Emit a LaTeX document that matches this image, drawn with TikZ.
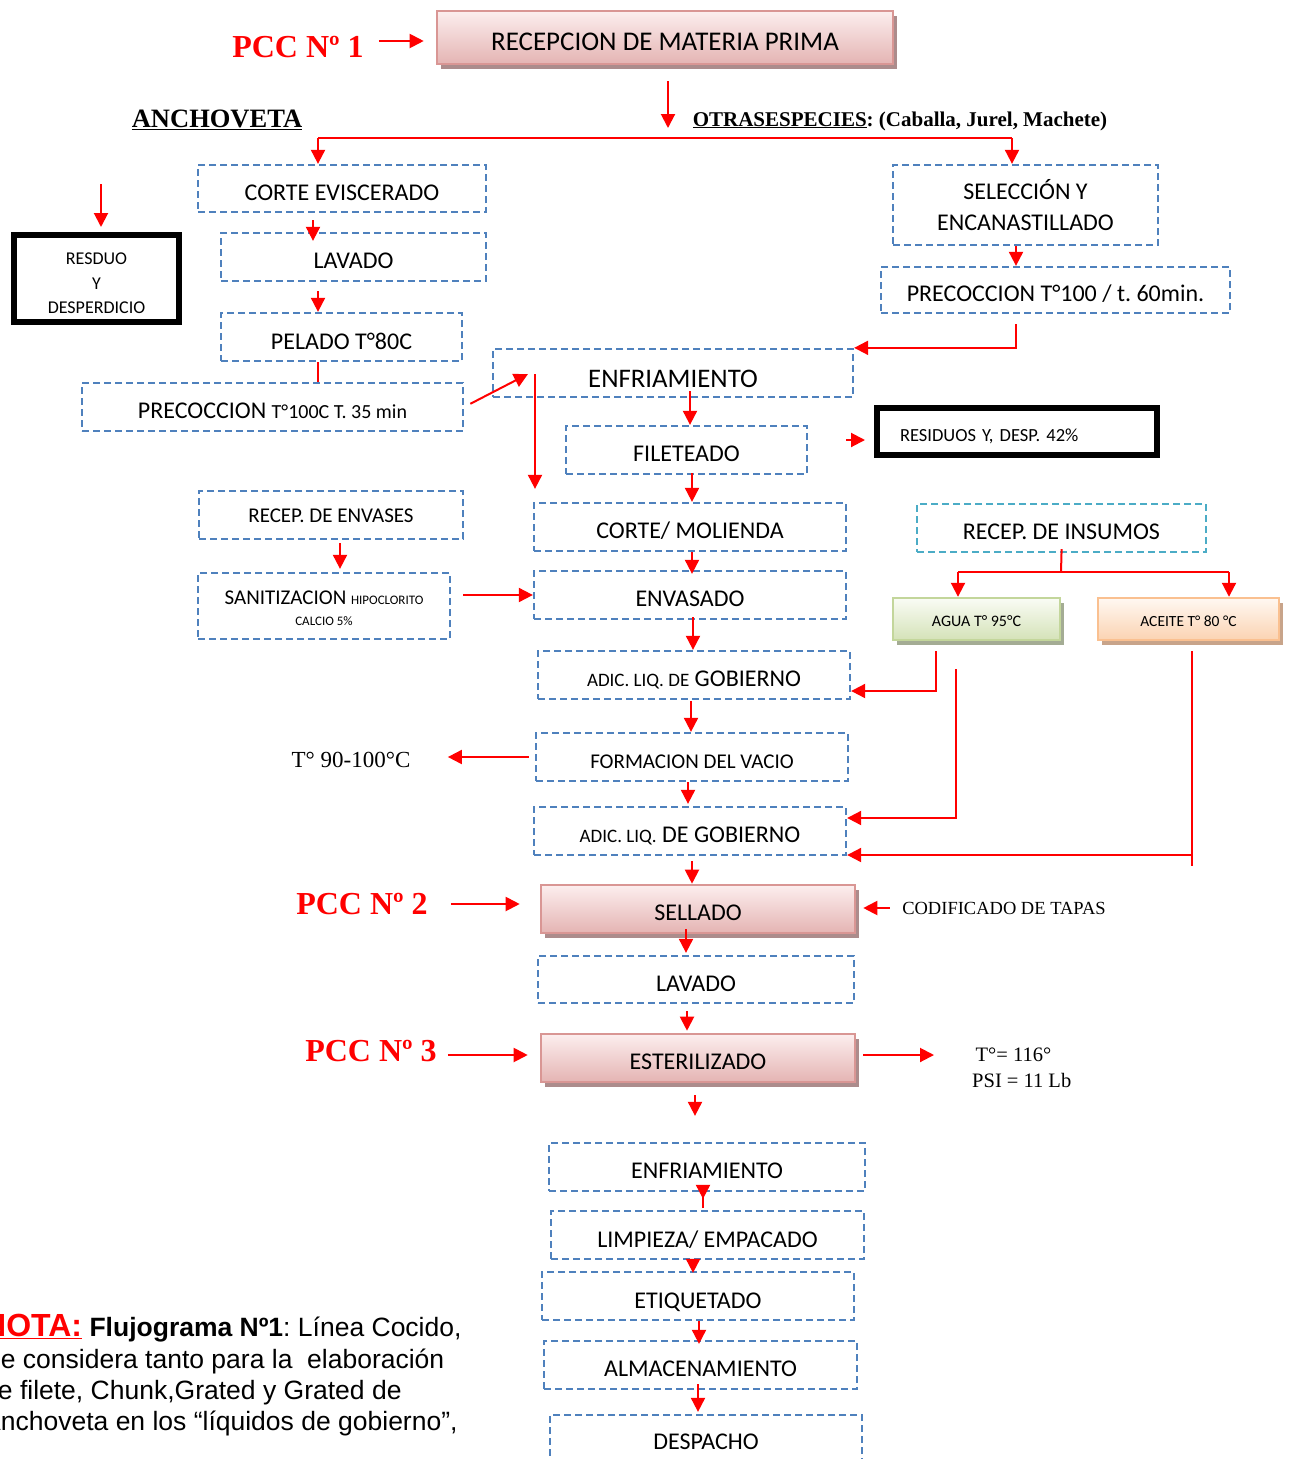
\documentclass[tikz,border=0pt]{standalone}
\usepackage{fontspec}
\setmainfont{Carlito}
\newfontfamily\serifrm{Liberation Serif}
\newfontfamily\sansar{Liberation Sans}
\usetikzlibrary{arrows.meta,shadows}
\newcommand\fsz[2]{\fontsize{#1}{#2}\selectfont}
\frenchspacing

\definecolor{stepblue}{HTML}{4F81BD}
\definecolor{inputteal}{HTML}{4BACC6}
\definecolor{pccedge}{HTML}{D99694}
\definecolor{pcctop}{HTML}{FCEEEE}
\definecolor{pccbottom}{HTML}{E4B4B3}
\definecolor{pccshadow}{HTML}{AC8C8C}
\definecolor{wateredge}{HTML}{C3D69B}
\definecolor{watertop}{HTML}{FAFCF5}
\definecolor{waterbottom}{HTML}{D4E2B8}
\definecolor{watershadow}{HTML}{A4AC94}
\definecolor{oiledge}{HTML}{FAC090}
\definecolor{oiltop}{HTML}{FFF8F2}
\definecolor{oilbottom}{HTML}{FBD3B2}
\definecolor{oilshadow}{HTML}{C8A48A}

\tikzset{
  stepframe/.style={draw=stepblue, line width=2.3pt, dash pattern=on 7pt off 4pt,
    inner sep=0pt, align=center, font=\fsz{24}{29}},
  stepbox/.style={stepframe, text height=23.5pt, text depth=0pt},
  inputbox/.style={stepbox, draw=inputteal},
  pccbox/.style={draw=pccedge, line width=2.6pt, top color=pcctop, bottom color=pccbottom,
    inner sep=0pt, align=center, font=\fsz{24}{29}, text height=23.5pt, text depth=0pt,
    drop shadow={shadow xshift=4pt, shadow yshift=-5pt, opacity=1, fill=pccshadow}},
  waterbox/.style={draw=wateredge, line width=2.4pt, top color=watertop, bottom color=waterbottom,
    inner sep=0pt, font=\fsz{16}{18}, text height=14.3pt, text depth=0pt,
    drop shadow={shadow xshift=4pt, shadow yshift=-5pt, opacity=1, fill=watershadow}},
  oilbox/.style={draw=oiledge, line width=2.4pt, top color=oiltop, bottom color=oilbottom,
    inner sep=0pt, font=\fsz{15.5}{18}, text height=14pt, text depth=0pt,
    drop shadow={shadow xshift=4pt, shadow yshift=-5pt, opacity=1, fill=oilshadow}},
  wastebox/.style={draw=black, line width=6pt, inner sep=0pt},
  flow/.style={draw=red, line width=2pt, -{Triangle[length=14pt,width=14pt]}},
  link/.style={draw=red, line width=2pt},
  pcclabel/.style={text=red, font=\serifrm\bfseries\fsz{32}{36}, inner sep=0pt},
  nota/.style={anchor=base west, inner sep=0pt, font=\sansar\fsz{26.5}{31}},
}

\begin{document}
\begin{tikzpicture}[x=1pt,y=-1pt]
\useasboundingbox (0,0) rectangle (1288,1459);
\clip (0,0) rectangle (1288,1459);
\fill[white] (0,0) rectangle (1288,1459);

% ---------- header ----------
\node[pccbox, minimum width=456, minimum height=53, font=\fsz{27}{30}, text height=25.4pt] (rmp) at (665,37.5) {RECEPCION DE MATERIA PRIMA};
\node[pcclabel] (pcc1) at (298,47) {PCC Nº 1};
\node[font=\serifrm\bfseries\fsz{26.5}{30}] (anch) at (217,120) {\underline{ANCHOVETA}};
\node[font=\serifrm\bfseries\fsz{21}{25}] (otras) at (900,121) {\underline{OTRASESPECIES}: (Caballa, Jurel, Machete)};

% ---------- anchoveta line ----------
\node[stepbox, minimum width=288, minimum height=47] (ce) at (342,188.5) {CORTE EVISCERADO};
\node[wastebox, minimum width=165, minimum height=87, align=center, font=\fsz{18}{24.5}, text height=70.6pt, text depth=0pt] (res) at (96.5,278.5) {RESDUO\\Y\\DESPERDICIO};
\node[stepbox, minimum width=265, minimum height=48] (lav1) at (353.5,257) {LAVADO};
\node[stepbox, minimum width=241, minimum height=48, text height=25.5pt] (pel) at (341.5,337) {PELADO T°80C};
\node[stepbox, minimum width=381, minimum height=48] (prec1) at (272.5,407) {PRECOCCION {\fsz{20}{24}T°100C T. 35 min}};

% ---------- other species ----------
\node[stepframe, minimum width=265, minimum height=80, font=\fsz{24}{31}] (sel) at (1025.5,205) {SELECCIÓN Y\\ENCANASTILLADO};
\node[stepbox, minimum width=349, minimum height=46] (prec2) at (1055.5,290) {PRECOCCION T°100 / t. 60min.};

% ---------- main column ----------
\node[stepbox, minimum width=360, minimum height=48, font=\fsz{26.8}{30}, text height=29.3pt] (enf1) at (673,373) {ENFRIAMIENTO};
\node[stepbox, minimum width=241, minimum height=48] (fil) at (686.5,450) {FILETEADO};
\node[wastebox, minimum width=280, minimum height=47, text width=234, align=left, font=\fsz{18.5}{22}, text height=19.9pt, text depth=0pt] (res42) at (1017,431.5) {RESIDUOS Y, DESP. 42\%};
\node[stepbox, minimum width=312, minimum height=48] (cm) at (690,527) {CORTE/ MOLIENDA};
\node[stepbox, minimum width=312, minimum height=48] (env) at (690,595) {ENVASADO};
\node[stepbox, minimum width=264, minimum height=48, font=\fsz{21}{25}, text height=15.5pt] (renv) at (331,515) {RECEP. DE ENVASES};
\node[stepframe, minimum width=252, minimum height=66, font=\fsz{21}{21}, text height=38pt, text depth=0pt] (san) at (324,606) {SANITIZACION {\fsz{13}{15}HIPOCLORITO}\\{\fsz{13}{15}CALCIO 5\%}};
\node[stepbox, minimum width=312, minimum height=48] (adic1) at (694,675) {{\fsz{19}{24}ADIC. LIQ. DE} GOBIERNO};
\node[inputbox, minimum width=289, minimum height=48] (ins) at (1061.5,528) {RECEP. DE INSUMOS};
\node[waterbox, minimum width=167, minimum height=42] (agua) at (976.5,619) {AGUA T° 95°C};
\node[oilbox, minimum width=181, minimum height=42] (ace) at (1188.5,619) {ACEITE T° 80 °C};
\node[stepbox, minimum width=312, minimum height=48, font=\fsz{21}{25}, text height=23.5pt] (fv) at (692,757) {FORMACION DEL VACIO};
\node[font=\serifrm\fsz{23}{26}] (t90) at (351,760) {T° 90-100°C};
\node[stepbox, minimum width=312, minimum height=48] (adic2) at (690,831) {{\fsz{19}{24}ADIC. LIQ.} DE GOBIERNO};
\node[pccbox, minimum width=314, minimum height=48] (sell) at (698,909) {SELLADO};
\node[pcclabel] (pcc2) at (362,904) {PCC Nº 2};
\node[font=\serifrm\fsz{18.5}{22}] (cod) at (1004,908) {CODIFICADO DE TAPAS};
\node[stepbox, minimum width=316, minimum height=47] (lav2) at (696,979.5) {LAVADO};
\node[pccbox, minimum width=314, minimum height=48] (est) at (698,1058) {ESTERILIZADO};
\node[pcclabel] (pcc3) at (371,1051) {PCC Nº 3};
\node[font=\serifrm\fsz{20.5}{26}, align=left, anchor=west, inner sep=0pt] (tpsi) at (972,1068) {\,T°= 116°\\PSI = 11 Lb};
\node[stepbox, minimum width=316, minimum height=48] (enf2) at (707,1167) {ENFRIAMIENTO};
\node[stepbox, minimum width=313, minimum height=48, text height=25.5pt] (limp) at (707.5,1235) {LIMPIEZA/ EMPACADO};
\node[stepbox, minimum width=312, minimum height=48, text height=25.5pt] (eti) at (698,1296) {ETIQUETADO};
\node[stepbox, minimum width=313, minimum height=48] (alm) at (700.5,1365) {ALMACENAMIENTO};
\node[stepbox, minimum width=312, minimum height=46] (desp) at (706,1438) {DESPACHO};

% ---------- note ----------
\node[nota] (n1) at (-17,1336) {{\color{red}\bfseries\fsz{32}{31}\underline{NOTA:}} {\bfseries Flujograma Nº1}: Línea Cocido,};
\node[nota] (n2) at (-17,1368) {Se considera tanto para la \ elaboración};
\node[nota] (n3) at (-17,1399) {de filete, Chunk,Grated y Grated de};
\node[nota] (n4) at (-17,1430) {Anchoveta en los “líquidos de gobierno”,};

% ---------- connector points ----------
\coordinate (sp) at (668,138);
\coordinate (spl) at (318,138);
\coordinate (spr) at (1012,138);
\coordinate (rs0) at (101,184);
\coordinate (enfin) at (528,374);
\coordinate (v1) at (535,374);
\coordinate (r42a) at (846,440);
\coordinate (insj) at (1061,572);
\coordinate (insl) at (958,572);
\coordinate (insr) at (1229,572);
\coordinate (a1) at (936,691);
\coordinate (a2) at (956,818);
\coordinate (a3t) at (1192,866);
\coordinate (a3) at (1192,855);
\foreach \c in {313,318,340,686,687,688,690,691,692,693,695,698,699,703,1016}
  \coordinate (k\c) at (\c,0);

% ---------- connectors ----------
\draw[flow, shorten <=15pt, shorten >=12pt] ([yshift=6pt]pcc1.east) -- ([yshift=6pt]pcc1.east -| rmp.west);
\draw[flow, shorten <=16pt, shorten >=10pt] (rmp.south -| sp) -- (sp);
\draw[link] (spl) -- (spr);
\draw[flow] (spl) -- (spl |- ce.north);
\draw[flow] (spr) -- (spr |- sel.north);
\draw[flow, shorten >=5pt] (rs0) -- (rs0 |- res.north);
\draw[flow, shorten <=7pt, shorten >=-9pt] (ce.south -| k313) -- (lav1.north -| k313);
\draw[flow, shorten <=9pt] (lav1.south -| k318) -- (pel.north -| k318);
\draw[link] (pel.south -| k318) -- (prec1.north -| k318);
\draw[flow, shorten <=7pt] (prec1.east) -- (enfin);
\draw[flow, shorten >=13pt] (v1) -- (v1 |- cm.north);
\draw[flow, shorten <=10pt] (prec2.south -| k1016) |- (enf1.north east);
\draw[flow] (sel.south -| k1016) -- (prec2.north -| k1016);
\draw[flow, shorten <=-7pt] (enf1.south -| k690) -- (fil.north -| k690);
\draw[flow, shorten >=9pt] (r42a) -- (r42a -| res42.west);
\draw[flow, shorten <=-2pt] (fil.south -| k692) -- (cm.north -| k692);
\draw[flow, shorten >=-4pt] (cm.south -| k692) -- (env.north -| k692);
\draw[flow, shorten <=3pt, shorten >=3pt] (renv.south -| k340) -- (san.north -| k340);
\draw[flow, shorten <=12pt] (env.west -| san.east) -- (env.west);
\draw[flow, shorten <=-3pt] (env.south -| k693) -- (adic1.north -| k693);
\draw[link, shorten <=-4pt] (ins.south) -- (insj);
\draw[link] (insl) -- (insr);
\draw[flow] (insl) -- (insl |- agua.north);
\draw[flow] (insr) -- (insr |- ace.north);
\draw[flow, shorten <=10pt] (agua.south -| a1) -- (a1) -- (a1 -| adic1.east);
\draw[flow, shorten <=28pt] (agua.south -| a2) -- (a2) -- (a2 -| adic2.east);
\draw[link, shorten <=10pt] (ace.south -| a3t) -- (a3t);
\draw[flow] (a3) -- (a3 -| adic2.east);
\draw[flow, shorten <=1pt] (adic1.south -| k691) -- (fv.north -| k691);
\draw[flow, shorten <=6pt, shorten >=34pt] (fv.west) -- (fv.west -| t90.east);
\draw[flow, shorten >=2pt] (fv.south -| k688) -- (adic2.north -| k688);
\draw[flow, shorten <=5pt] (adic2.south -| k692) -- (sell.north -| k692);
\draw[flow, shorten <=23pt, shorten >=20pt] (pcc2.east) -- (pcc2.east -| sell.west);
\draw[flow, shorten <=9pt, shorten >=7pt] (cod.west) -- (cod.west -| sell.east);
\draw[flow, shorten <=-5pt, shorten >=2pt] (sell.south -| k686) -- (lav2.north -| k686);
\draw[flow, shorten <=7pt, shorten >=2pt] (lav2.south -| k687) -- (est.north -| k687);
\draw[flow, shorten <=11pt, shorten >=12pt] ([yshift=-4pt]pcc3.east) -- ([yshift=-4pt]pcc3.east -| est.west);
\draw[flow, shorten <=7pt, shorten >=38pt] ([yshift=3pt]est.east) -- ([yshift=3pt]est.east -| tpsi.west);
\draw[flow, shorten <=12pt, shorten >=26pt] (est.south -| k695) -- (enf2.north -| k695);
\draw[flow, shorten <=-16pt, shorten >=11pt] (enf2.south -| k703) -- (limp.north -| k703);
\draw[flow, shorten <=-4pt, shorten >=-2pt] (limp.south -| k693) -- (eti.north -| k693);
\draw[flow, shorten >=-4pt] (eti.south -| k699) -- (alm.north -| k699);
\draw[flow, shorten <=-6pt, shorten >=2pt] (alm.south -| k698) -- (desp.north -| k698);
\end{tikzpicture}
\end{document}
